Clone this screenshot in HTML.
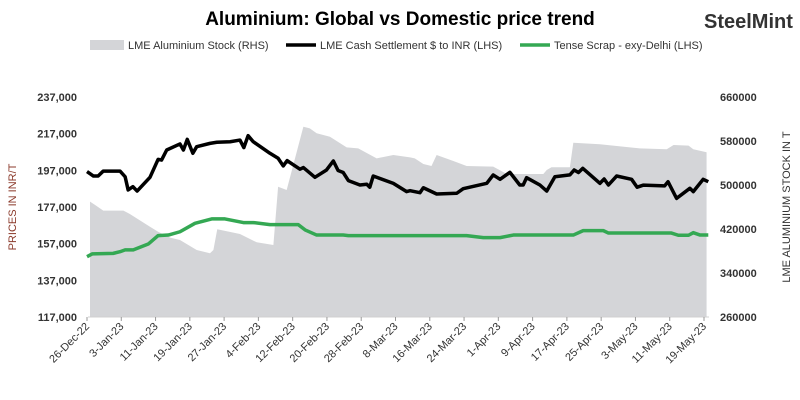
<!DOCTYPE html>
<html><head><meta charset="utf-8"><style>
body{margin:0;background:#fff;font-family:"Liberation Sans",sans-serif}
svg{display:block}
</style></head><body>
<svg id="c" width="800" height="400" xmlns="http://www.w3.org/2000/svg">
<text x="400" y="25" text-anchor="middle" font-size="19" font-weight="bold" fill="#000">Aluminium: Global vs Domestic price trend</text>
<g>
<text x="704" y="28" font-size="20" font-weight="bold" fill="#333">SteelMint</text>
</g>
<g font-size="11" fill="#333">
<rect x="90" y="40" width="34" height="10" fill="#d4d5d8"/>
<text x="128" y="49">LME Aluminium Stock (RHS)</text>
<line x1="286" y1="45" x2="316" y2="45" stroke="#000" stroke-width="3.5"/>
<text x="320" y="49">LME Cash Settlement $ to INR (LHS)</text>
<line x1="520" y1="45" x2="550" y2="45" stroke="#34a853" stroke-width="3.5"/>
<text x="554" y="49">Tense Scrap - exy-Delhi (LHS)</text>
</g>
<text transform="translate(16,207) rotate(-90)" text-anchor="middle" font-size="11" fill="#8b3a2b">PRICES IN INR/T</text>
<text transform="translate(790,207) rotate(-90)" text-anchor="middle" font-size="11" fill="#333">LME ALUMINIUM STOCK IN T</text>
<g id="plot"></g>
</svg>
<script>
const dateLabels=["26-Dec-22","3-Jan-23","11-Jan-23","19-Jan-23","27-Jan-23","4-Feb-23","12-Feb-23","20-Feb-23","28-Feb-23","8-Mar-23","16-Mar-23","24-Mar-23","1-Apr-23","9-Apr-23","17-Apr-23","25-Apr-23","3-May-23","11-May-23","19-May-23"];
const leftTicks=[117000,137000,157000,177000,197000,217000,237000];
const rightTicks=[260000,340000,420000,500000,580000,660000];
const lmeDays=[0,1.5,2.6,3.8,7.7,8.9,9.6,10.7,11.7,14.7,16.6,17.4,18.6,21.7,22.5,23.4,24.7,25.6,28.7,30.3,33.4,35.7,36.6,37.6,38.8,42.7,44.6,45.8,46.7,49.7,50.5,53.2,55.9,57.5,58.6,59.8,61,63.7,65.3,66,66.8,71.5,74.6,75.4,77.7,78.5,81.6,86.3,87.8,93.3,94.8,96.4,98.7,101,101.8,102.6,105.7,107.3,109.2,112.7,113.7,114.7,115.7,119.7,120.7,121.7,123.6,127.1,128.4,129.8,134.8,135.6,137.6,140.7,141.5,143.8,145];
const lmeVals=[196300,193900,193900,196600,196600,193500,186300,188100,185700,193200,203000,202600,208100,211400,208100,213900,206300,209900,211700,212300,212600,213500,209400,215900,212600,206300,203600,199400,202300,197600,198500,193200,197200,202100,196900,195800,191400,189000,189400,187800,193900,189900,185400,185900,184800,187500,184100,184500,187000,189900,194500,192100,195900,189000,189000,193000,189000,185700,193500,194500,197200,195800,198100,189900,192300,189000,193900,192100,187800,188900,188500,190800,181700,187200,185400,192100,190800];
const scrapDays=[0,1.2,6.1,7.7,8.9,10.8,14.3,16.6,19,21.7,25.2,29.1,32.2,36.5,38.8,42.7,49.3,50.9,53.6,59.8,61,75.4,88.6,92.5,96.4,99.5,113.5,115.8,120.5,121.7,136.4,138,140.4,141.5,143.1,145];
const scrapVals=[149900,151400,151700,152600,153600,153600,156800,161400,161700,163500,168100,170500,170500,168500,168500,167400,167400,164500,161700,161700,161400,161400,161400,160300,160300,161700,161700,164100,164100,162800,162800,161600,161600,163000,161700,161700];
const stockDays=[0.7,1.9,3.8,8.5,10,14.7,16.6,19.4,21.7,25.6,28.7,29.5,30.4,35.7,39.6,43.5,44.6,46.6,50.5,52,53.6,56.7,60.6,63.3,67.6,71.5,75.4,76.5,78.5,80.4,81.6,85.5,88.6,94.8,98,106.5,107.3,108.4,112.7,113.5,119.7,129,135.3,136.9,140.4,141.5,144.6];
const stockVals=[469700,463600,453300,453300,447300,424200,415100,404300,400000,381800,375800,381800,419500,410900,395800,390900,496900,490900,606000,603000,594000,587800,568500,566700,548500,554500,550300,548500,538200,534500,554500,543600,534500,533300,520000,520000,527300,532200,532200,576900,574000,566700,564900,572700,571500,564900,559500];

const X0=87,DX=617/144,YT=97,YB=317;
const xs=d=>X0+d*DX;
const yL=v=>YB-(v-117000)/(237000-117000)*(YB-YT);
const yR=v=>YB-(v-260000)/(660000-260000)*(YB-YT);
const NS="http://www.w3.org/2000/svg";
const plot=document.getElementById('plot');
function mk(tag,attrs,parent){const e=document.createElementNS(NS,tag);for(const k in attrs)e.setAttribute(k,attrs[k]);(parent||plot).appendChild(e);return e;}

// area
let d=`M${xs(stockDays[0])},${YB}`;
stockDays.forEach((t,i)=>{d+=` L${xs(t)},${yR(stockVals[i])}`;});
d+=` L${xs(stockDays[stockDays.length-1])},${YB} Z`;
const area=mk('path',{d:d,fill:'#d4d5d8'});



// x axis
const ax=mk('line',{x1:88,y1:YB,x2:709,y2:YB,stroke:'#d0d0d0','stroke-width':1});


dateLabels.forEach((lab,i)=>{
  const x=X0+i*8*DX;
  const tk=mk('line',{x1:x,y1:YB,x2:x,y2:YB+4,stroke:'#999','stroke-width':1});
  
  
  const t=mk('text',{transform:`translate(${x+3},${YB+10}) rotate(-45)`,'text-anchor':'end','font-size':11,fill:'#333'});
  t.textContent=lab;
  
  
});
leftTicks.forEach(v=>{
  const t=mk('text',{x:77,y:yL(v)+4,'text-anchor':'end','font-size':11,'font-weight':'bold',fill:'#333'});
  t.textContent=v.toLocaleString('en-US');
  
  
});
rightTicks.forEach(v=>{
  const t=mk('text',{x:720,y:yR(v)+4,'font-size':11,'font-weight':'bold',fill:'#333'});
  t.textContent=String(v);
  
  
});
function line(days,vals,color,name){
  const p=days.map((t,i)=>`${xs(t)},${yL(vals[i])}`).join(' ');
  const e=mk('polyline',{points:p,fill:'none',stroke:color,'stroke-width':3.5,'stroke-linejoin':'round'});
  
  
}
line(scrapDays,scrapVals,'#34a853','scrap-line');
line(lmeDays,lmeVals,'#000','lme-line');
</script>
</body></html>
